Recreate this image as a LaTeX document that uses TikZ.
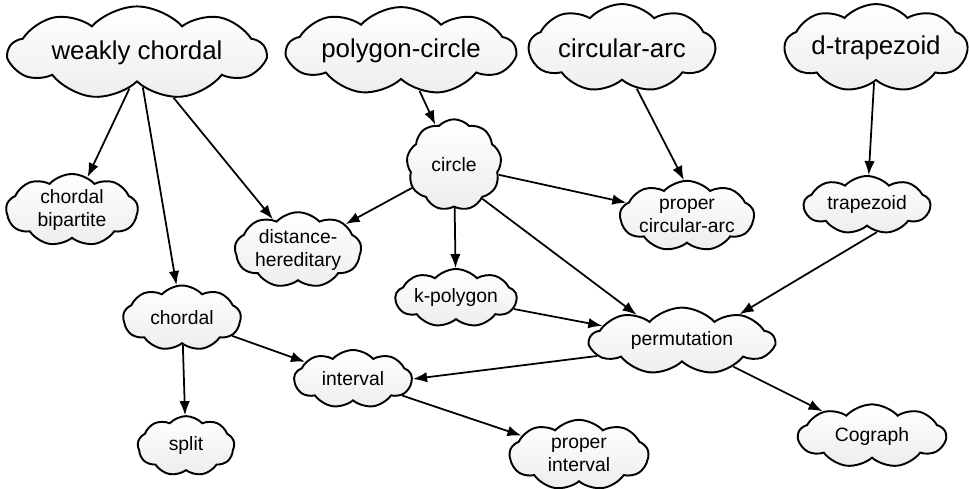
\documentclass[tikz,border=0pt]{standalone}
\usepackage{fontspec}
\setmainfont{Liberation Sans}
\usetikzlibrary{shapes.symbols,arrows.meta}
\begin{document}
\begin{tikzpicture}[x=0.02cm, y=-0.02cm,
  puff/.style={draw, shape=cloud, cloud puffs=9, cloud puff arc=95, cloud ignores aspect, line width=1.1pt, top color=white, bottom color=gray!14, inner sep=0pt, align=center},
  big/.style={puff, font=\fontsize{14.7}{17}\selectfont},
  small/.style={puff, font=\fontsize{11}{13}\selectfont},
  arr/.style={-{Latex[length=8pt, width=6pt]}, line width=1pt}]
\useasboundingbox (0,0) rectangle (969,489);

\node (wc) at (137,53) [big, minimum width=146pt, minimum height=53pt] {weakly chordal};
\node (pc) at (401,51) [big, minimum width=130pt, minimum height=50pt] {polygon-circle};
\node (ca) at (622,48) [big, minimum width=106pt, minimum height=50pt] {circular-arc};
\node (dt) at (876,48) [big, minimum width=104pt, minimum height=50pt] {d-trapezoid};

\node (ci) at (454,165) [small, minimum width=54pt, minimum height=52pt] {circle};
\node (cb) at (72,210) [small, minimum width=75pt, minimum height=41pt] {chordal\\bipartite};
\node (dh) at (298,250) [small, minimum width=72pt, minimum height=43pt] {distance-\\hereditary};
\node (pca) at (687,216) [small, minimum width=76pt, minimum height=40pt] {proper\\circular-arc};
\node (tz) at (867,205) [small, minimum width=72pt, minimum height=33pt] {trapezoid};
\node (kp) at (456,298) [small, minimum width=69pt, minimum height=33pt] {k-polygon};
\node (ch) at (182,318) [small, minimum width=67pt, minimum height=37pt] {chordal};
\node (pe) at (682,341) [small, minimum width=105pt, minimum height=38pt] {permutation};
\node (iv) at (353,379) [small, minimum width=67pt, minimum height=33pt] {interval};
\node (sp) at (186,446) [small, minimum width=55pt, minimum height=34pt] {split};
\node (pi) at (579,455) [small, minimum width=79pt, minimum height=40pt] {proper\\interval};
\node (cg) at (872,436) [small, minimum width=84pt, minimum height=36pt] {Cograph};

\draw[arr] (wc.258) -- (cb);
\draw[arr] (wc) -- (ch);
\draw[arr] (wc) -- (dh);
\draw[arr] (pc) -- (ci);
\draw[arr] (ca.290) -- (pca.95);
\draw[arr] (dt) -- (tz);
\draw[arr] (ci) -- (dh);
\draw[arr] (ci) -- (pca);
\draw[arr] (ci) -- (kp);
\draw[arr] (ci.310) -- (pe.150);
\draw[arr] (tz.290) -- (pe.25);
\draw[arr] (kp) -- (pe);
\draw[arr] (ch) -- (iv);
\draw[arr] (ch) -- (sp);
\draw[arr] (pe.190) -- (iv.0);
\draw[arr] (pe) -- (cg);
\draw[arr] (iv) -- (pi);
\end{tikzpicture}
\end{document}
